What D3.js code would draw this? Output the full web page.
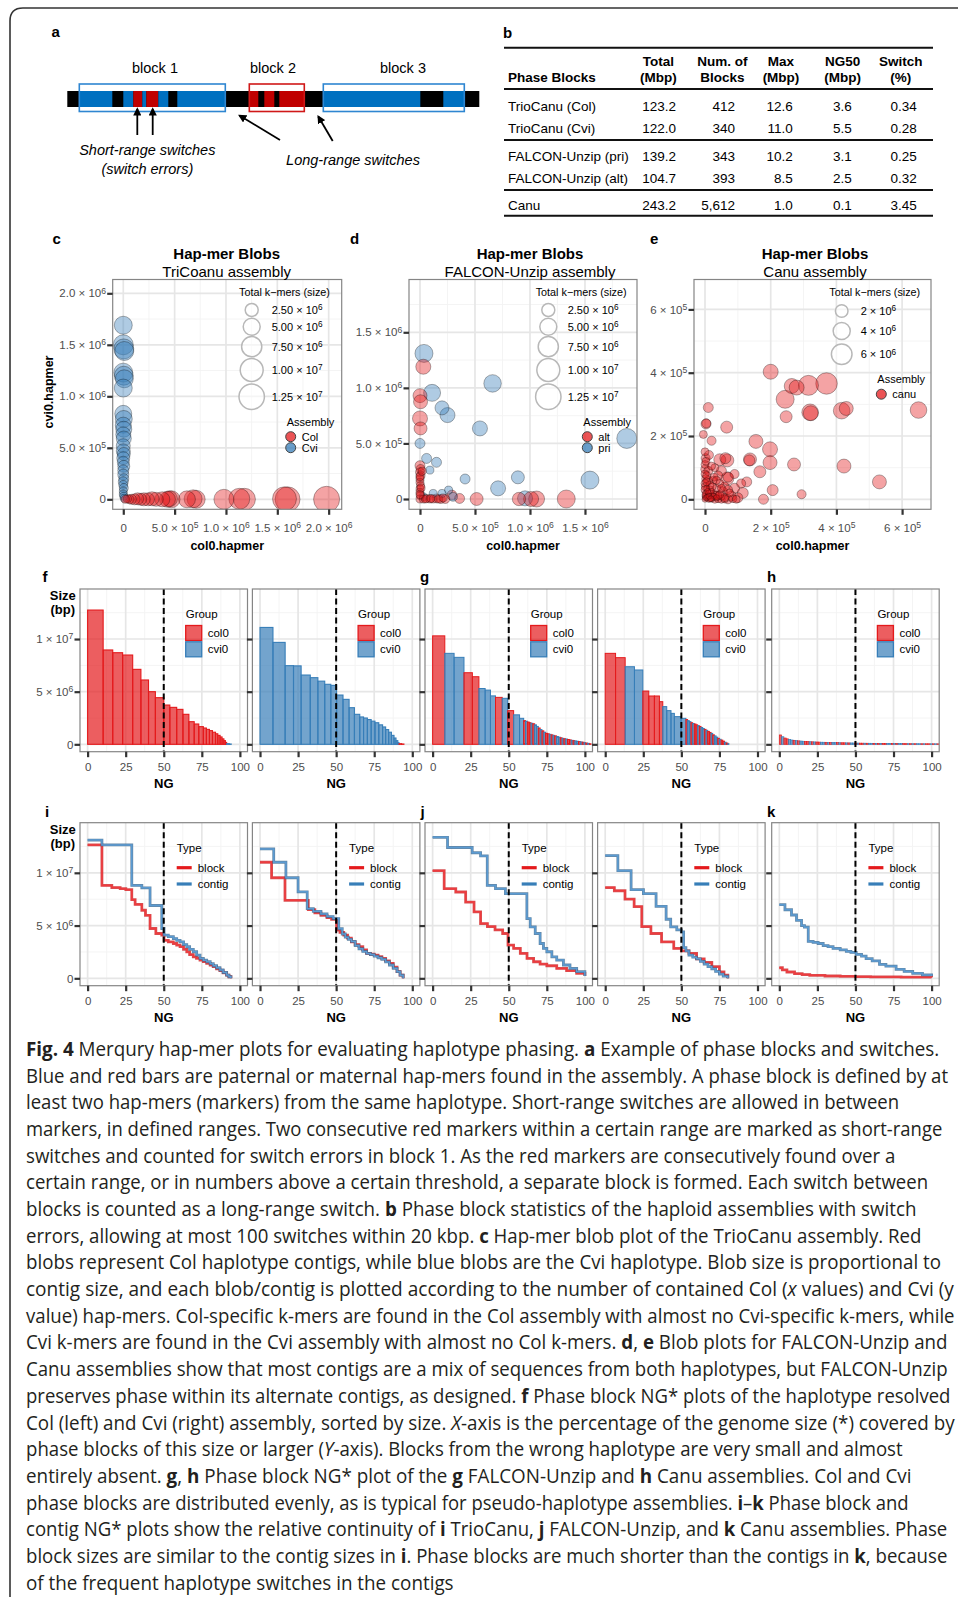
<!DOCTYPE html>
<html><head><meta charset="utf-8">
<script src="https://cdn.jsdelivr.net/npm/d3@7/dist/d3.min.js"></script>
<style>html,body{margin:0;padding:0;background:#fff;}svg{display:block;}</style>
</head><body>
<svg id="fig" width="958" height="1597" viewBox="0 0 958 1597"></svg>
<script>
// ======================= DATA =======================
// --- panel a: phase block diagram (positions in units along the chromosome) ---
const aChromLength = 412;
const aSegStart = [12, 56, 66, 75, 79, 91, 110, 182, 197, 212, 256, 376];
const aSegEnd   = [45, 66, 75, 79, 91, 101, 158, 191, 207, 237, 353, 397];
const aSegHap   = ["pat","pat","mat","pat","mat","pat","pat","mat","mat","mat","pat","pat"];
const aBlockStart = [12, 182, 256];
const aBlockEnd   = [158, 237, 397];
const aBlockHap   = ["pat","mat","pat"];
const aBlockLabels = ["block 1","block 2","block 3"];

// --- panel b: phase block table ---
const tblHead1 = ["", "Total", "Num. of", "Max", "NG50", "Switch"];
const tblHead2 = ["Phase Blocks", "(Mbp)", "Blocks", "(Mbp)", "(Mbp)", "(%)"];
const tblRows   = ["TrioCanu (Col)", "TrioCanu (Cvi)", "FALCON-Unzip (pri)", "FALCON-Unzip (alt)", "Canu"];
const tblTotal  = ["123.2", "122.0", "139.2", "104.7", "243.2"];
const tblNum    = ["412", "340", "343", "393", "5,612"];
const tblMax    = ["12.6", "11.0", "10.2", "8.5", "1.0"];
const tblNG50   = ["3.6", "5.5", "3.1", "2.5", "0.1"];
const tblSwitch = ["0.34", "0.28", "0.25", "0.32", "3.45"];

// --- panel c: TrioCanu blobs (x, y in 10^6 hap-mers, size in 10^6 k-mers) ---
const cBlobX = [0,0,0.005,0.01,0,0.005,0.01,0,0,0.005,0,0.005,0,0.005,0,0,0.005,0,0,0.005,0,0,0.005,0,0,0.005,0,0,0.005,0.01,
  1.98,1.6,1.57,1.18,1.13,0.98,0.71,0.68,0.62,0.47,0.45,0.43,0.38,0.32,0.28,0.24,0.2,0.17,0.14,0.11,0.08,0.06,0.04,0.02];
const cBlobY = [1.69,1.5,1.46,1.44,1.23,1.2,1.17,1.08,0.83,0.78,0.72,0.68,0.63,0.59,0.52,0.47,0.44,0.4,0.36,0.32,0.28,0.24,0.2,0.17,0.14,0.11,0.08,0.05,0.03,0.01,
  0,0,0.005,0,0.005,0,0,0.005,0,0,0.005,0,0,0,0.005,0,0,0,0.005,0,0,0,0.005,0];
const cBlobSize = [5.75,7.35,7.35,6.5,6.5,6.5,5.75,5.75,5.0,5.0,4.33,4.33,3.7,3.7,3.07,3.07,2.5,2.5,1.97,1.97,1.5,1.5,1.05,1.05,0.65,0.65,0.3,0.3,0.3,0.3,
  13.2,12.0,11.0,9.1,8.2,7.35,5.75,5.75,5.0,5.0,4.33,4.33,3.7,3.07,3.07,2.5,2.5,1.97,1.97,1.5,1.05,0.65,0.3,0.3];
const cBlobGroup = ["Cvi","Cvi","Cvi","Cvi","Cvi","Cvi","Cvi","Cvi","Cvi","Cvi","Cvi","Cvi","Cvi","Cvi","Cvi","Cvi","Cvi","Cvi","Cvi","Cvi","Cvi","Cvi","Cvi","Cvi","Cvi","Cvi","Cvi","Cvi","Cvi","Cvi",
  "Col","Col","Col","Col","Col","Col","Col","Col","Col","Col","Col","Col","Col","Col","Col","Col","Col","Col","Col","Col","Col","Col","Col","Col"];

// --- panel d: FALCON-Unzip blobs ---
const dBlobX = [0.036,0.11,0.2,0.25,0.66,0.545,1.88,0,0.06,0.15,0.09,0.41,0.89,0.71,1.545,0.955,0.26,0.3,0.12,0.03,0.2,
  0.03,0,0.005,0,0.005,0,0.005,0,0.005,0,0,0.005,0,0,0.005,0,0.03,0.06,0.09,0.12,0.15,0.19,0.23,0.29,0.36,0.515,0.9,1.01,1.06,1.33,
  0.01,0,0.02,0.05,0.1,0.17,0.21,0];
const dBlobY = [1.31,0.955,0.82,0.755,1.04,0.635,0.545,0.5,0.365,0.33,0.26,0.18,0.195,0.096,0.17,0.006,0.08,0.02,0.05,0.02,0.05,
  1.19,0.93,0.875,0.725,0.635,0.3,0.27,0.24,0.21,0.18,0.15,0.12,0.09,0.06,0.03,0,0,0.005,0,0,0.005,0,0,0.035,0.005,0,0,0,0,0,
  0.1,0.2,0.25,0,0.005,0,0.01,0.04];
const dBlobSize = [5.75,5.0,3.07,3.7,5.4,3.7,7.35,1.05,1.05,1.05,0.3,1.05,2.5,3.7,5.75,3.7,0.3,0.65,0.3,0.3,0.3,
  3.7,3.07,3.07,3.7,2.5,1.05,0.65,0.65,0.65,0.3,0.3,0.3,0.3,0.3,0.3,0.3,0.3,0.3,0.3,0.3,0.65,0.65,0.65,1.05,1.05,2.5,2.7,3.7,4.33,5.75,
  0.3,0.3,0.3,0.3,0.3,0.3,0.3,0.3];
const dBlobGroup = ["pri","pri","pri","pri","pri","pri","pri","pri","pri","pri","pri","pri","pri","pri","pri","pri","pri","pri","pri","pri","pri",
  "alt","alt","alt","alt","alt","alt","alt","alt","alt","alt","alt","alt","alt","alt","alt","alt","alt","alt","alt","alt","alt","alt","alt","alt","alt","alt","alt","alt","alt","alt",
  "alt","alt","alt","alt","alt","alt","alt","alt"];

// --- panel e: Canu blobs (x, y in 10^5 hap-mers, size in 10^6 k-mers) ---
const eBlobX = [2.0,2.44,2.64,2.79,3.15,3.7,3.2,3.22,4.16,4.3,6.5,2.47,0.1,0.03,0.04,0.66,-0.05,0.2,1.55,1.98,1.98,2.71,4.23,5.31,2.06,2.94,1.78,1.37,1.35,0.68,0.62,0.45,0.68,0.7,1.67,1.27,0.9,1.15,1.0,0.8,
  0,0.02,0,0.01,0,0.02,0,0.01,0,0.02,0,0.01,0,
  0.1,0.2,0.3,0.4,0.5,0.6,0.7,0.85,0.95,
  0.25,0.35,0.5,0.3,0.55,0.15,0.4,0.2,0.45,
  0.05,0.1,0.15,0.3,0.6,0.75,0.25,0.1,0.5,0.05,0.35,0.15,0,0.08,0.9,1.1,
  0.05,0.12,0.18,0.25,0.32,0.08,0.15,0.22,0.4,0.05,0.1,0.28,0.6,0.45,0.7,0.03,0.12,0.2,0.35,0.5];
const eBlobY = [4.03,3.16,3.58,3.53,3.6,3.66,2.75,2.72,2.8,2.87,2.82,2.61,2.9,2.38,2.4,2.28,2.05,1.85,1.83,1.58,1.16,1.1,1.05,0.55,0.29,0.16,0,1.26,1.23,1.23,1.3,1.25,0.66,0.7,0.87,0.55,0.35,0.2,0.05,0.1,
  1.5,1.3,1.1,0.95,0.8,0.65,0.5,0.4,0.3,0.2,0.1,0.05,0,
  0,0.01,0,0.02,0,0.01,0,0.02,0,
  0.6,0.35,0.9,1.0,0.25,0.45,0.75,0.25,0.5,
  0.75,0.6,0.3,0.15,0.4,0.2,0.1,0.2,0.1,0.35,0.05,0,0.15,0.08,0.8,0.5,
  0.05,0.1,0.02,0.08,0.12,0.25,0.18,0.4,0.1,0.55,0.9,0.7,0.05,0.15,0.3,1.2,1.4,1.05,0.6,0.35];
const eBlobSize = [3.0,4.49,3.0,3.0,5.63,6.6,3.76,3.0,3.76,2.56,3.76,1.78,1.12,1.12,0.85,1.78,0.57,0.85,2.56,3.0,2.56,2.15,2.56,2.56,1.44,0.85,1.12,2.15,1.44,2.15,1.44,1.78,2.15,1.12,1.78,1.12,1.12,1.44,1.12,1.12,
  0.57,0.85,0.57,0.85,0.57,0.57,0.57,0.57,0.57,0.15,0.15,0.15,0.15,
  0.15,0.15,0.57,0.57,0.57,0.57,0.85,0.57,0.57,
  0.57,0.57,1.12,0.57,0.85,0.57,0.85,0.15,0.57,
  0.57,0.85,0.57,0.57,0.85,0.57,0.15,0.15,0.57,0.15,0.15,0.15,0.15,0.15,0.85,0.85,
  0.15,0.15,0.15,0.57,0.57,0.15,0.57,0.57,0.57,0.57,0.85,0.57,0.57,0.57,0.85,0.57,0.85,0.57,0.57,0.57];

// --- panels f-h: phase block NG bars (NG end %, block size in Mbp, group 0=col0 1=cvi0) ---
const ngGroups = ["col0","cvi0"];
const f1Ends  = [10.2,16.5,23,29.6,35,40,44.5,50,54,58.5,62.6,66.5,70,73,76,78,80,82,84,85.5,87,88.3,89.5,90.5,91.3,93,94.3];
const f1Sizes = [12.75,8.96,8.7,8.48,7.12,6.11,5.0,4.43,3.73,3.51,3.32,2.85,2.15,1.93,1.68,1.55,1.42,1.3,1.15,1.0,0.85,0.7,0.52,0.35,0.18,0.06,0.03];
const f1Group = [0,0,0,0,0,0,0,0,0,0,0,0,0,0,0,0,0,0,0,0,0,0,0,0,0,1,1];
const f2Ends  = [8.5,16.5,22,27,33,38,42.5,46.5,50.3,54.5,58.5,62,65.5,68,70.5,73,75.5,78,80.5,82.5,84.5,86.3,88,89.3,90.5,91.3,93,94.5];
const f2Sizes = [11.1,9.68,7.47,7.45,6.58,6.33,6.0,5.7,5.6,4.68,4.27,3.48,2.85,2.6,2.5,2.35,2.2,2.05,1.85,1.65,1.4,1.15,0.85,0.6,0.35,0.15,0.06,0.03];
const f2Group = [1,1,1,1,1,1,1,1,1,1,1,1,1,1,1,1,1,1,1,1,1,1,1,1,1,1,0,0];
const g1Ends  = [8.0,14.1,20.6,26.1,30.4,34.5,38.0,41.3,45.7,49.3,53.2,57.1,59.8,
  61,62.2,63.4,64.6,65.8,67,68.2,69.4,70.6,71.8,73,74.2,75.4,76.6,77.8,79,80.2,81.4,82.6,83.8,85,86.2,87.4,88.6,89.8,91,92.2,93.4,94.6,95.8,97,98.2,99.4,100.6,101.8,103,104];
const g1Sizes = [10.3,8.64,8.26,6.8,6.42,5.3,5.15,4.6,4.46,4.37,3.2,2.8,2.47,
  2.25,2.2,2.12,2.05,2.0,1.95,1.85,1.7,1.55,1.4,1.28,1.15,1.05,1.0,0.95,0.9,0.85,0.8,0.74,0.68,0.62,0.57,0.53,0.5,0.46,0.42,0.38,0.35,0.32,0.29,0.26,0.23,0.2,0.16,0.12,0.09,0.05];
const g1Group = [0,1,1,0,0,1,1,1,0,1,0,1,1,
  0,1,0,0,1,0,1,1,0,1, 0,1,0,0,1,0,1,0,1,1, 0,1,0,1,0,0,1,0,1,1, 0,1,0,1,0,1,0];
const g2Ends  = [6.8,13.1,19.2,24.7,28.6,32.3,35.6,37.8,40.4,43.2,45.4,49.8,53,
  54.1,55.2,56.3,57.4,58.5,59.6,60.7,61.8,62.9,64,65.1,66.2,67.3,68.4,69.5,70.6,71.7,72.8,73.9,75,76.1,77.2,78.3,79.4,80.5,81.2];
const g2Sizes = [8.64,8.23,7.37,7.06,5.06,4.59,4.59,4.05,3.58,3.2,2.94,2.63,2.47,
  2.35,2.25,2.15,2.05,1.98,1.93,1.85,1.78,1.7,1.6,1.5,1.42,1.33,1.23,1.13,1.04,0.9,0.8,0.68,0.57,0.48,0.4,0.3,0.2,0.12,0.06];
const g2Group = [0,0,1,1,0,0,0,0,1,1,1,1,1,
  0,1,1,0,1,0,0,1,0,1, 1,0,1,0,0,1,0,1,1,0, 1,0,0,1,0,1];
const hEnds  = [1.5,3,4.5,6,7.5,9,10.5,12,13.5,15,16.5,18,19.5,21,22.5,24,25.5,27,28.5,30,31.5,33,34.5,36,37.5,39,40.5,42,43.5,45,
  46.5,48,49.5,51,52.5,54,55.5,57,58.5,60,61.5,63,64.5,66,67.5,69,70.5,72,73.5,75,76.5,78,79.5,81,82.5,84,85.5,87,88.5,90,
  91.5,93,94.5,96,97.5,99,100.5,102,103.5,105];
const hSizes = [0.89,0.72,0.6,0.52,0.46,0.41,0.38,0.35,0.33,0.31,0.29,0.27,0.26,0.25,0.24,0.23,0.22,0.21,0.2,0.195,0.19,0.18,0.175,0.17,0.165,0.16,0.155,0.15,0.145,0.14,
  0.135,0.13,0.125,0.12,0.115,0.11,0.107,0.104,0.1,0.098,0.095,0.092,0.09,0.087,0.085,0.082,0.08,0.078,0.076,0.074,0.072,0.07,0.068,0.066,0.064,0.062,0.06,0.058,0.057,0.055,
  0.054,0.052,0.051,0.05,0.049,0.048,0.047,0.046,0.045,0.044];
const hGroup = [0,1,0,0,1,1,0,1,0,1, 1,0,0,1,0,1,0,0,1,1, 0,1,0,1,1,0,1,0,0,1, 0,1,1,0,1,0,0,1,0,1,
  1,0,1,0,1,0,0,1,1,0, 1,0,1,1,0,0,1,0,1,0, 1,1,0,1,0,0,1,0,1,0];

// --- panels i-k: block / contig NG step lines (NG %, size in Mbp) ---
const i1BlockNG  = [0,9.4,15.9,21.4,25.1,29,31.2,35.6,38,41,44.8,48.7,50.2,53,56.3,58.5,60.7,63,65.1,67,69.4,71.5,73.8,76,78.2,80.5,82.5,84.7,86.9,89,91.3,92.8,94.1];
const i1BlockSize = [12.64,8.8,8.6,8.5,8.4,7.45,7.0,6.45,5.97,4.72,4.25,4.1,3.6,3.45,3.3,3.15,3.0,2.75,2.5,2.25,2.04,1.9,1.73,1.58,1.42,1.25,1.1,0.9,0.72,0.52,0.31,0.15,0];
const i1ContigNG = [0,9.4,29,35.6,41,48.7,50.2,53,56.3,58.5,60.7,63,65.1,67,69.4,71.6,73.8,76,78.2,80.5,82.5,84.7,86.9,89,91.3,92.8,94.1];
const i1ContigSize = [13.1,12.64,8.8,8.58,6.9,4.72,4.1,3.95,3.77,3.6,3.46,3.2,2.99,2.75,2.52,2.2,1.89,1.72,1.57,1.38,1.19,1.0,0.79,0.55,0.31,0.15,0];
const i2BlockNG  = [0,7.6,16.4,31.7,36,40,44,47,50.3,52.5,55,57.5,60,62.5,65,67.5,70,72.5,75,77.5,80,82.5,85,87.5,90,92,94];
const i2BlockSize = [11.0,9.53,7.39,6.51,6.2,5.97,5.75,5.6,4.56,4.35,4.1,3.8,3.46,3.2,3.0,2.7,2.36,2.28,2.2,2.05,1.89,1.65,1.42,1.05,0.63,0.3,0];
const i2ContigNG = [0,9,17,25,31,35,40,44,48,51.7,54,56,58,60,62.5,65,67.5,70,72.5,75,77.5,80,82.5,85,87.5,90,92,94];
const i2ContigSize = [12.26,11.0,9.53,8.2,6.6,6.35,6.1,5.85,5.66,4.7,4.2,3.9,3.7,3.5,3.1,2.8,2.55,2.36,2.25,2.1,1.95,1.8,1.55,1.26,0.95,0.63,0.3,0];
const j1BlockNG  = [0,7.6,15.2,21.7,27.2,31.5,36,41,46,49.5,53.2,57.6,62,66.3,70.6,75,81.5,88,94.6,100];
const j1BlockSize = [10.2,8.5,8.18,7.23,6.3,5.19,4.9,4.6,4.25,3.14,2.83,2.36,1.89,1.57,1.35,1.19,0.94,0.72,0.47,0.22];
const j1ContigNG = [0,9.8,26,31.5,35.9,41.3,47.8,61.9,64.1,67.4,70.6,72.8,75,78.3,81.5,85.9,90.2,94.6,100];
const j1ContigSize = [13.36,12.4,11.9,11.6,8.8,8.5,8.02,5.66,4.87,4.25,3.3,2.83,2.52,2.04,1.73,1.26,0.94,0.63,0.22];
const j2BlockNG  = [0,6,13,19,24,30,37,45,50,55,60,65,70,75,78,80.5];
const j2BlockSize = [8.6,8.3,7.5,6.8,4.9,4.25,3.46,2.83,2.6,2.36,1.85,1.5,1.1,0.6,0.3,0];
const j2ContigNG = [0,8.3,17,25.1,33.4,40,43,47,50,51.5,53,55,57.5,60,62.5,65,67.5,70,72.5,75,77.5,80.5];
const j2ContigSize = [11.63,10.2,8.4,8.02,6.82,5.6,4.87,4.6,4.4,2.9,2.6,2.2,2.0,1.85,1.6,1.35,1.1,0.9,0.65,0.4,0.2,0];
const kBlockNG  = [0,2,5,10,15,20,30,40,50,60,80,100];
const kBlockSize = [1.0,0.8,0.6,0.44,0.35,0.28,0.22,0.19,0.16,0.13,0.11,0.1];
const kContigNG = [0,3.7,8,11.3,14.6,16.5,19,22.2,25.5,28.8,32,35.3,40,44,47,50.5,54,57,61,65.8,70,76.7,82,87.6,94,100];
const kContigSize = [6.98,6.5,6.0,5.5,5.0,4.85,3.5,3.4,3.3,3.1,3.0,2.83,2.7,2.55,2.45,2.26,2.1,1.86,1.65,1.32,1.15,0.85,0.65,0.47,0.32,0.22];

// --- tick values and labels ---
const cXTicks = [0,0.5,1,1.5,2], cXLabels = ["0","5.0 × 10^5","1.0 × 10^6","1.5 × 10^6","2.0 × 10^6"];
const cYTicks = [0,0.5,1,1.5,2], cYLabels = ["0","5.0 × 10^5","1.0 × 10^6","1.5 × 10^6","2.0 × 10^6"];
const dXTicks = [0,0.5,1,1.5], dXLabels = ["0","5.0 × 10^5","1.0 × 10^6","1.5 × 10^6"];
const dYTicks = [0,0.5,1,1.5], dYLabels = ["0","5.0 × 10^5","1.0 × 10^6","1.5 × 10^6"];
const eXTicks = [0,2,4,6], eXLabels = ["0","2 × 10^5","4 × 10^5","6 × 10^5"];
const eYTicks = [0,2,4,6], eYLabels = ["0","2 × 10^5","4 × 10^5","6 × 10^5"];
const ngXTicks = [0,25,50,75,100], ngXLabels = ["0","25","50","75","100"];
const ngYTicks = [0,5,10], ngYLabels = ["0","5 × 10^6","1 × 10^7"];
const sizeLegendCD = [2.5,5,7.5,10,12.5], sizeLegendCDLabels = ["2.50 × 10^6","5.00 × 10^6","7.50 × 10^6","1.00 × 10^7","1.25 × 10^7"];
const sizeLegendE = [2,4,6], sizeLegendELabels = ["2 × 10^6","4 × 10^6","6 × 10^6"];

// --- caption ---
const captionLines = [
"**Fig. 4** Merqury hap-mer plots for evaluating haplotype phasing. **a** Example of phase blocks and switches.",
"Blue and red bars are paternal or maternal hap-mers found in the assembly. A phase block is defined by at",
"least two hap-mers (markers) from the same haplotype. Short-range switches are allowed in between",
"markers, in defined ranges. Two consecutive red markers within a certain range are marked as short-range",
"switches and counted for switch errors in block 1. As the red markers are consecutively found over a",
"certain range, or in numbers above a certain threshold, a separate block is formed. Each switch between",
"blocks is counted as a long-range switch. **b** Phase block statistics of the haploid assemblies with switch",
"errors, allowing at most 100 switches within 20 kbp. **c** Hap-mer blob plot of the TrioCanu assembly. Red",
"blobs represent Col haplotype contigs, while blue blobs are the Cvi haplotype. Blob size is proportional to",
"contig size, and each blob/contig is plotted according to the number of contained Col (_x_ values) and Cvi (y",
"value) hap-mers. Col-specific k-mers are found in the Col assembly with almost no Cvi-specific k-mers, while",
"Cvi k-mers are found in the Cvi assembly with almost no Col k-mers. **d**, **e** Blob plots for FALCON-Unzip and",
"Canu assemblies show that most contigs are a mix of sequences from both haplotypes, but FALCON-Unzip",
"preserves phase within its alternate contigs, as designed. **f** Phase block NG* plots of the haplotype resolved",
"Col (left) and Cvi (right) assembly, sorted by size. _X_-axis is the percentage of the genome size (*) covered by",
"phase blocks of this size or larger (_Y_-axis). Blocks from the wrong haplotype are very small and almost",
"entirely absent. **g**, **h** Phase block NG* plot of the **g** FALCON-Unzip and **h** Canu assemblies. Col and Cvi",
"phase blocks are distributed evenly, as is typical for pseudo-haplotype assemblies. **i**–**k** Phase block and",
"contig NG* plots show the relative continuity of **i** TrioCanu, **j** FALCON-Unzip, and **k** Canu assemblies. Phase",
"block sizes are similar to the contig sizes in **i**. Phase blocks are much shorter than the contigs in **k**, because",
"of the frequent haplotype switches in the contigs"
];

// ======================= DRAWING =======================
const svg = d3.select("#fig");
const SANS = "'Liberation Sans', Arial, Helvetica, sans-serif";
const CAPF = "'Open Sans', 'Noto Sans', sans-serif";
const RED = "#E41A1C", BLUE = "#377EB8";
svg.append("rect").attr("width",958).attr("height",1597).attr("fill","#fff");

function setSup(t, s){
  if (s && s.includes("^")) {
    const p = s.split("^"); t.text(null);
    t.append("tspan").text(p[0]);
    t.append("tspan").attr("dy","-0.45em").attr("font-size","0.75em").text(p[1]);
  } else t.text(s);
}
function txt(parent, x, y, s, o={}){
  const t = parent.append("text").attr("x",x).attr("y",y)
    .attr("font-family",o.family||SANS).attr("font-size",o.size||12).attr("fill",o.fill||"#000");
  if (o.anchor) t.attr("text-anchor",o.anchor);
  if (o.weight) t.attr("font-weight",o.weight);
  if (o.style) t.attr("font-style",o.style);
  setSup(t, s);
  return t;
}

// outer frame
svg.append("path").attr("d","M10,1597 V21 Q10,8 23,8 H958").attr("fill","none").attr("stroke","#333").attr("stroke-width",1.6);

// ---------- panel a ----------
(function(){
  const g = svg.append("g");
  const ax = d3.scaleLinear().domain([0,aChromLength]).range([67.3,479.3]);
  const hapFill = {pat:"#0070C0", mat:"#C00000"}, hapLine = {pat:"#2E86D1", mat:"#D01818"};
  txt(g, 51.5, 37, "a", {size:15, weight:"bold"});
  g.append("rect").attr("x",ax(0)).attr("y",91).attr("width",ax(aChromLength)-ax(0)).attr("height",16).attr("fill","#000");
  g.selectAll("rect.seg").data(d3.range(aSegStart.length)).join("rect").attr("class","seg")
    .attr("x",i=>ax(aSegStart[i])).attr("width",i=>ax(aSegEnd[i])-ax(aSegStart[i]))
    .attr("y",91).attr("height",16).attr("fill",i=>hapFill[aSegHap[i]]);
  g.selectAll("rect.blk").data(d3.range(aBlockStart.length)).join("rect").attr("class","blk")
    .attr("x",i=>ax(aBlockStart[i])).attr("width",i=>ax(aBlockEnd[i])-ax(aBlockStart[i]))
    .attr("y",84).attr("height",27.5).attr("fill","none").attr("stroke",i=>hapLine[aBlockHap[i]]).attr("stroke-width",1.6);
  const labelPos = [87.7, 205.7, 335.7];
  aBlockLabels.forEach((s,i)=>txt(g, ax(labelPos[i]), 73, s, {size:14.5, anchor:"middle"}));
  const defs = svg.append("defs");
  defs.append("marker").attr("id","arrowA").attr("viewBox","0 0 10 10").attr("refX",8).attr("refY",5)
    .attr("markerWidth",4.6).attr("markerHeight",4.6).attr("orient","auto")
    .append("path").attr("d","M0,0 L10,5 L0,10 z").attr("fill","#000");
  const arrows = [[70,135,70,109],[85.4,135,85.4,109],[212.7,140,172.2,115.5],[265.4,141,251,116.5]];
  arrows.forEach(a=>g.append("line").attr("x1",ax(a[0])).attr("y1",a[1]).attr("x2",ax(a[2])).attr("y2",a[3])
    .attr("stroke","#000").attr("stroke-width",1.8).attr("marker-end","url(#arrowA)"));
  txt(g, 147.3, 155, "Short-range switches", {size:14.5, anchor:"middle", style:"italic"});
  txt(g, 147.3, 174, "(switch errors)", {size:14.5, anchor:"middle", style:"italic"});
  txt(g, 353, 165, "Long-range switches", {size:14.5, anchor:"middle", style:"italic"});
})();

// ---------- panel b ----------
(function(){
  const g = svg.append("g");
  txt(g, 503, 37.5, "b", {size:15, weight:"bold"});
  [47.7, 89, 140, 190, 215.7].forEach(y=>g.append("line").attr("x1",504).attr("x2",933).attr("y1",y).attr("y2",y)
    .attr("stroke","#111").attr("stroke-width",2));
  const colC = [0, 658.3, 722.3, 781, 842.7, 900.7];
  const colR = [0, 676, 735, 792.7, 851.7, 916.7];
  txt(g, 508, 82.3, tblHead2[0], {size:13.5, weight:"bold"});
  for (let c=1;c<6;c++){
    txt(g, colC[c], 65.7, tblHead1[c], {size:13.5, weight:"bold", anchor:"middle"});
    txt(g, colC[c], 82.3, tblHead2[c], {size:13.5, weight:"bold", anchor:"middle"});
  }
  const rowY = [110.5, 132.5, 160.7, 182.7, 210.2];
  const cols = [tblTotal, tblNum, tblMax, tblNG50, tblSwitch];
  tblRows.forEach((r,i)=>{
    txt(g, 508, rowY[i], r, {size:13.5});
    cols.forEach((col,c)=>txt(g, colR[c+1], rowY[i], col[i], {size:13.5, anchor:"end"}));
  });
})();

// ---------- generic ggplot-like panel ----------
let clipN = 0;
function ggPanel(o){
  const xs = d3.scaleLinear().domain(o.xdom).range([o.x0,o.x1]);
  const ys = d3.scaleLinear().domain(o.ydom).range([o.y1,o.y0]);
  const g = svg.append("g");
  g.append("rect").attr("x",o.x0).attr("y",o.y0).attr("width",o.x1-o.x0).attr("height",o.y1-o.y0).attr("fill","#fff");
  const grid = g.append("g");
  const vl = (vals,col,w)=>vals.forEach(v=>grid.append("line").attr("x1",xs(v)).attr("x2",xs(v)).attr("y1",o.y0).attr("y2",o.y1).attr("stroke",col).attr("stroke-width",w));
  const hl = (vals,col,w)=>vals.forEach(v=>grid.append("line").attr("y1",ys(v)).attr("y2",ys(v)).attr("x1",o.x0).attr("x2",o.x1).attr("stroke",col).attr("stroke-width",w));
  vl(o.xMin,"#F3F3F3",0.9); hl(o.yMin,"#F3F3F3",0.9);
  vl(o.xTicks,"#E6E6E6",1.7); hl(o.yTicks,"#E6E6E6",1.7);
  const id = "clip"+(clipN++);
  g.append("clipPath").attr("id",id).append("rect").attr("x",o.x0).attr("y",o.y0).attr("width",o.x1-o.x0).attr("height",o.y1-o.y0);
  const content = g.append("g").attr("clip-path",`url(#${id})`);
  const over = g.append("g");
  g.append("rect").attr("x",o.x0).attr("y",o.y0).attr("width",o.x1-o.x0).attr("height",o.y1-o.y0)
    .attr("fill","none").attr("stroke","#858585").attr("stroke-width",1.2);
  const styleAxis = (ga)=>{
    ga.attr("font-family",SANS).attr("font-size",11.5);
    ga.select(".domain").remove();
    ga.selectAll(".tick line").attr("stroke","#333").attr("stroke-width",2.2);
    ga.selectAll(".tick text").attr("fill","#4D4D4D").each(function(){ const t=d3.select(this); setSup(t, t.text()); });
  };
  const xa = d3.axisBottom(xs).tickValues(o.xTicks).tickSizeInner(5.5).tickSizeOuter(0).tickPadding(o.xPad)
    .tickFormat((d,i)=>o.xLab[i]);
  g.append("g").attr("transform",`translate(0,${o.y1})`).call(xa).call(styleAxis);
  const ya = d3.axisLeft(ys).tickValues(o.yTicks).tickSizeInner(5.5).tickSizeOuter(0).tickPadding(1.2)
    .tickFormat((d,i)=>o.yLab ? o.yLab[i] : "");
  g.append("g").attr("transform",`translate(${o.x0},0)`).call(ya).call(styleAxis);
  return {xs, ys, content, over};
}

// ---------- panels c, d, e: blob plots ----------
function blobPanel(o){
  const P = ggPanel({x0:o.x0, x1:o.x1, y0:279.5, y1:509.3, xdom:o.xdom, ydom:o.ydom,
    xTicks:o.xTicks, xMin:o.xMin, yTicks:o.yTicks, yMin:o.yMin, xLab:o.xLab, yLab:o.yLab, xPad:9});
  const idx = d3.range(o.X.length).sort((a,b)=>o.S[b]-o.S[a]);
  P.content.selectAll("circle").data(idx).join("circle")
    .attr("cx",i=>P.xs(o.X[i])).attr("cy",i=>P.ys(o.Y[i])).attr("r",i=>o.size(o.S[i]))
    .attr("fill",i=>o.color[o.G[i]]).attr("fill-opacity",0.4)
    .attr("stroke","#000").attr("stroke-opacity",0.3).attr("stroke-width",1);
  txt(svg, o.letterX, 244, o.letter, {size:15, weight:"bold"});
  txt(svg, o.titleX, 258.5, "Hap-mer Blobs", {size:15, weight:"bold", anchor:"middle"});
  txt(svg, o.titleX, 277, o.subtitle, {size:15, anchor:"middle"});
  txt(svg, (o.x0+o.x1)/2, 549.5, "col0.hapmer", {size:12.5, weight:"bold", anchor:"middle"});
  const L = P.over;
  txt(L, o.legTitleX, 295.5, "Total k\u2212mers (size)", {size:10.8});
  o.legVals.forEach((v,i)=>{
    L.append("circle").attr("cx",o.legCircleX).attr("cy",o.legRowY[i]).attr("r",o.size(v))
      .attr("fill","#fff").attr("fill-opacity",0.6).attr("stroke","#B8B8B8").attr("stroke-width",1.5);
    txt(L, o.legLabelX, o.legRowY[i]+4, o.legLabels[i], {size:11});
  });
  txt(L, o.asmTitleX, o.asmTitleY, "Assembly", {size:11});
  o.asmNames.forEach((n,i)=>{
    const cy = o.asmTitleY + 11.2 + 11*i;
    L.append("circle").attr("cx",o.asmTitleX+4).attr("cy",cy).attr("r",5).attr("fill",o.color[n]).attr("fill-opacity",0.75)
      .attr("stroke","#444").attr("stroke-width",1);
    txt(L, o.asmTitleX+15, cy+4, n, {size:11});
  });
  return P;
}
const sizeCD = d3.scaleRadial().domain([2.5,12.5]).range([6.5,12.7]);
const sizeE  = d3.scaleRadial().domain([2,6]).range([6.3,10.3]);
blobPanel({x0:112.7, x1:341.7, xdom:[-0.103,2.127], ydom:[-0.097,2.134],
  xTicks:cXTicks, xMin:[0.25,0.75,1.25,1.75], yTicks:cYTicks, yMin:[0.25,0.75,1.25,1.75], xLab:cXLabels, yLab:cYLabels,
  X:cBlobX, Y:cBlobY, S:cBlobSize, G:cBlobGroup, color:{Col:RED, Cvi:BLUE}, size:sizeCD,
  letter:"c", letterX:52.5, titleX:226.7, subtitle:"TriCoanu assembly",
  legTitleX:239, legCircleX:251.7, legLabelX:271.7, legRowY:[310,326.7,346.7,370,396.7], legVals:sizeLegendCD, legLabels:sizeLegendCDLabels,
  asmTitleX:286.7, asmTitleY:425.5, asmNames:["Col","Cvi"]});
blobPanel({x0:409, x1:637, xdom:[-0.1,1.973], ydom:[-0.0927,1.975],
  xTicks:dXTicks, xMin:[0.25,0.75,1.25,1.75], yTicks:dYTicks, yMin:[0.25,0.75,1.25,1.75], xLab:dXLabels, yLab:dYLabels,
  X:dBlobX, Y:dBlobY, S:dBlobSize, G:dBlobGroup, color:{alt:RED, pri:BLUE}, size:sizeCD,
  letter:"d", letterX:350, titleX:530, subtitle:"FALCON-Unzip assembly",
  legTitleX:535.7, legCircleX:548.3, legLabelX:567.7, legRowY:[310,326.7,346.7,370,396.7], legVals:sizeLegendCD, legLabels:sizeLegendCDLabels,
  asmTitleX:583.3, asmTitleY:425.5, asmNames:["alt","pri"]});
blobPanel({x0:694, x1:931, xdom:[-0.335,6.88], ydom:[-0.316,6.945],
  xTicks:eXTicks, xMin:[1,3,5], yTicks:eYTicks, yMin:[1,3,5], xLab:eXLabels, yLab:eYLabels,
  X:eBlobX, Y:eBlobY, S:eBlobSize, G:eBlobX.map(()=>"canu"), color:{canu:RED}, size:sizeE,
  letter:"e", letterX:650, titleX:815, subtitle:"Canu assembly",
  legTitleX:829.3, legCircleX:841.7, legLabelX:860.7, legRowY:[311,331,354.3], legVals:sizeLegendE, legLabels:sizeLegendELabels,
  asmTitleX:877.3, asmTitleY:383, asmNames:["canu"]});
svg.append("text").attr("transform","translate(52.5,392) rotate(-90)").attr("text-anchor","middle")
  .attr("font-family",SANS).attr("font-size",12.5).attr("font-weight","bold").text("cvi0.hapmer");

// ---------- NG panels ----------
const ngX0 = [80, 252.4, 425, 597.6, 771.7], ngW = 167.5;
const ngColor = [RED, BLUE];
function ngPanel(k, y0, y1, showY){
  const x0 = ngX0[k];
  const P = ggPanel({x0, x1:x0+ngW, y0, y1, xdom:[-5,105], ydom:[-0.7,14.75],
    xTicks:ngXTicks, xMin:[12.5,37.5,62.5,87.5], yTicks:ngYTicks, yMin:[2.5,7.5,12.5],
    xLab:ngXLabels, yLab: showY ? ngYLabels : null, xPad:5.5});
  P.x0 = x0;
  return P;
}
function dashed(P, y0, y1){
  P.content.append("line").attr("x1",P.xs(50)).attr("x2",P.xs(50)).attr("y1",y0).attr("y2",y1)
    .attr("stroke","#000").attr("stroke-width",2).attr("stroke-dasharray","6,3.5");
}
function bars(P, ends, sizes, groups, sw){
  const starts = [0].concat(ends.slice(0,-1));
  P.content.selectAll("rect.bar").data(d3.range(ends.length)).join("rect").attr("class","bar")
    .attr("x",i=>P.xs(starts[i])).attr("width",i=>P.xs(ends[i])-P.xs(starts[i]))
    .attr("y",i=>P.ys(sizes[i])).attr("height",i=>P.ys(0)-P.ys(sizes[i]))
    .attr("fill",i=>ngColor[groups[i]]).attr("fill-opacity",0.7)
    .attr("stroke",i=>ngColor[groups[i]]).attr("stroke-width",sw);
}
function groupLegend(P){
  const x = P.x0 + 105.7;
  txt(P.over, x, 618, "Group", {size:11.5});
  ngGroups.forEach((n,i)=>{
    P.over.append("rect").attr("x",x).attr("y",625.5+16.3*i).attr("width",16).attr("height",15)
      .attr("fill",ngColor[i]).attr("fill-opacity",0.7).attr("stroke",ngColor[i]).attr("stroke-width",1.3);
    txt(P.over, x+22, 637+16.3*i, n, {size:11.5});
  });
}
const fy0 = 589, fy1 = 751.7;
const barSets = [[f1Ends,f1Sizes,f1Group,1.1],[f2Ends,f2Sizes,f2Group,1.1],[g1Ends,g1Sizes,g1Group,1.0],[g2Ends,g2Sizes,g2Group,1.0],[hEnds,hSizes,hGroup,0.7]];
barSets.forEach((b,k)=>{
  const P = ngPanel(k, fy0, fy1, k===0);
  bars(P, b[0], b[1], b[2], b[3]);
  dashed(P, fy0, fy1);
  groupLegend(P);
  txt(svg, P.x0+ngW/2, 788, "NG", {size:13, weight:"bold", anchor:"middle"});
});
txt(svg, 62.8, 600, "Size", {size:13, weight:"bold", anchor:"middle"});
txt(svg, 62.8, 614, "(bp)", {size:13, weight:"bold", anchor:"middle"});
txt(svg, 42.5, 581.7, "f", {size:15, weight:"bold"});
txt(svg, 420, 581.5, "g", {size:15, weight:"bold"});
txt(svg, 767, 581.7, "h", {size:15, weight:"bold"});

// ---------- NG line panels i, j, k ----------
const iy0 = 822.7, iy1 = 985.7;
const typeNames = ["block","contig"];
const lineSets = [
  [i1BlockNG,i1BlockSize,i1ContigNG,i1ContigSize],
  [i2BlockNG,i2BlockSize,i2ContigNG,i2ContigSize],
  [j1BlockNG,j1BlockSize,j1ContigNG,j1ContigSize],
  [j2BlockNG,j2BlockSize,j2ContigNG,j2ContigSize],
  [kBlockNG,kBlockSize,kContigNG,kContigSize]];
lineSets.forEach((L,k)=>{
  const P = ngPanel(k, iy0, iy1, k===0);
  const ln = d3.line().curve(d3.curveStepAfter).x(d=>P.xs(d[0])).y(d=>P.ys(d[1]));
  const draw = (xsA, ysA, col, dark)=>{
    const pts = xsA.map((v,i)=>[v, ysA[i]]);
    P.content.append("path").attr("d",ln(pts)).attr("fill","none").attr("stroke",dark).attr("stroke-width",2.8).attr("stroke-opacity",0.75);
    P.content.append("path").attr("d",ln(pts)).attr("fill","none").attr("stroke",col).attr("stroke-width",1.5);
  };
  draw(L[0], L[1], "#EE3B3E", "#C8181B");
  draw(L[2], L[3], "#5B9BD2", "#2F5F88");
  dashed(P, iy0, iy1);
  const x = P.x0 + 96.7;
  txt(P.over, x, 852.3, "Type", {size:11.5});
  typeNames.forEach((n,i)=>{
    const y = 867.7 + 16.3*i;
    P.over.append("line").attr("x1",x).attr("x2",x+15).attr("y1",y).attr("y2",y).attr("stroke",i===0?RED:BLUE).attr("stroke-width",3.2);
    txt(P.over, x+21, y+4, n, {size:11.5});
  });
  txt(svg, P.x0+ngW/2, 1022, "NG", {size:13, weight:"bold", anchor:"middle"});
});
txt(svg, 62.8, 834.3, "Size", {size:13, weight:"bold", anchor:"middle"});
txt(svg, 62.8, 848.3, "(bp)", {size:13, weight:"bold", anchor:"middle"});
txt(svg, 45, 816.7, "i", {size:15, weight:"bold"});
txt(svg, 420.5, 816.7, "j", {size:15, weight:"bold"});
txt(svg, 767, 817.3, "k", {size:15, weight:"bold"});

// ---------- caption (each line condensed horizontally to its measured width) ----------
(function(){
  const ends = [940,949,900,943,896,929,917,922,941,955,955,948,948,951,955,903,912,909,948,948,454];
  const g = svg.append("g");
  captionLines.forEach((line,i)=>{
    const t = g.append("text").attr("x",0).attr("y",0).attr("font-family",CAPF).attr("font-size",20)
      .attr("fill","#231F20");
    line.split(/(\*\*[^*]+?\*\*|_[^_]+?_)/).filter(s=>s.length).forEach(seg=>{
      const ts = t.append("tspan");
      if (seg.startsWith("**") && seg.endsWith("**") && seg.length>4) ts.attr("font-weight","bold").text(seg.slice(2,-2));
      else if (seg.startsWith("_") && seg.endsWith("_") && seg.length>2) ts.attr("font-style","italic").text(seg.slice(1,-1));
      else ts.text(seg);
    });
    const w = t.node().getComputedTextLength() || 1;
    const k = (ends[i]-26)/w;
    t.attr("transform",`translate(26,${1056+26.68*i}) scale(${k},1)`);
  });
})();
</script>
</body></html>
